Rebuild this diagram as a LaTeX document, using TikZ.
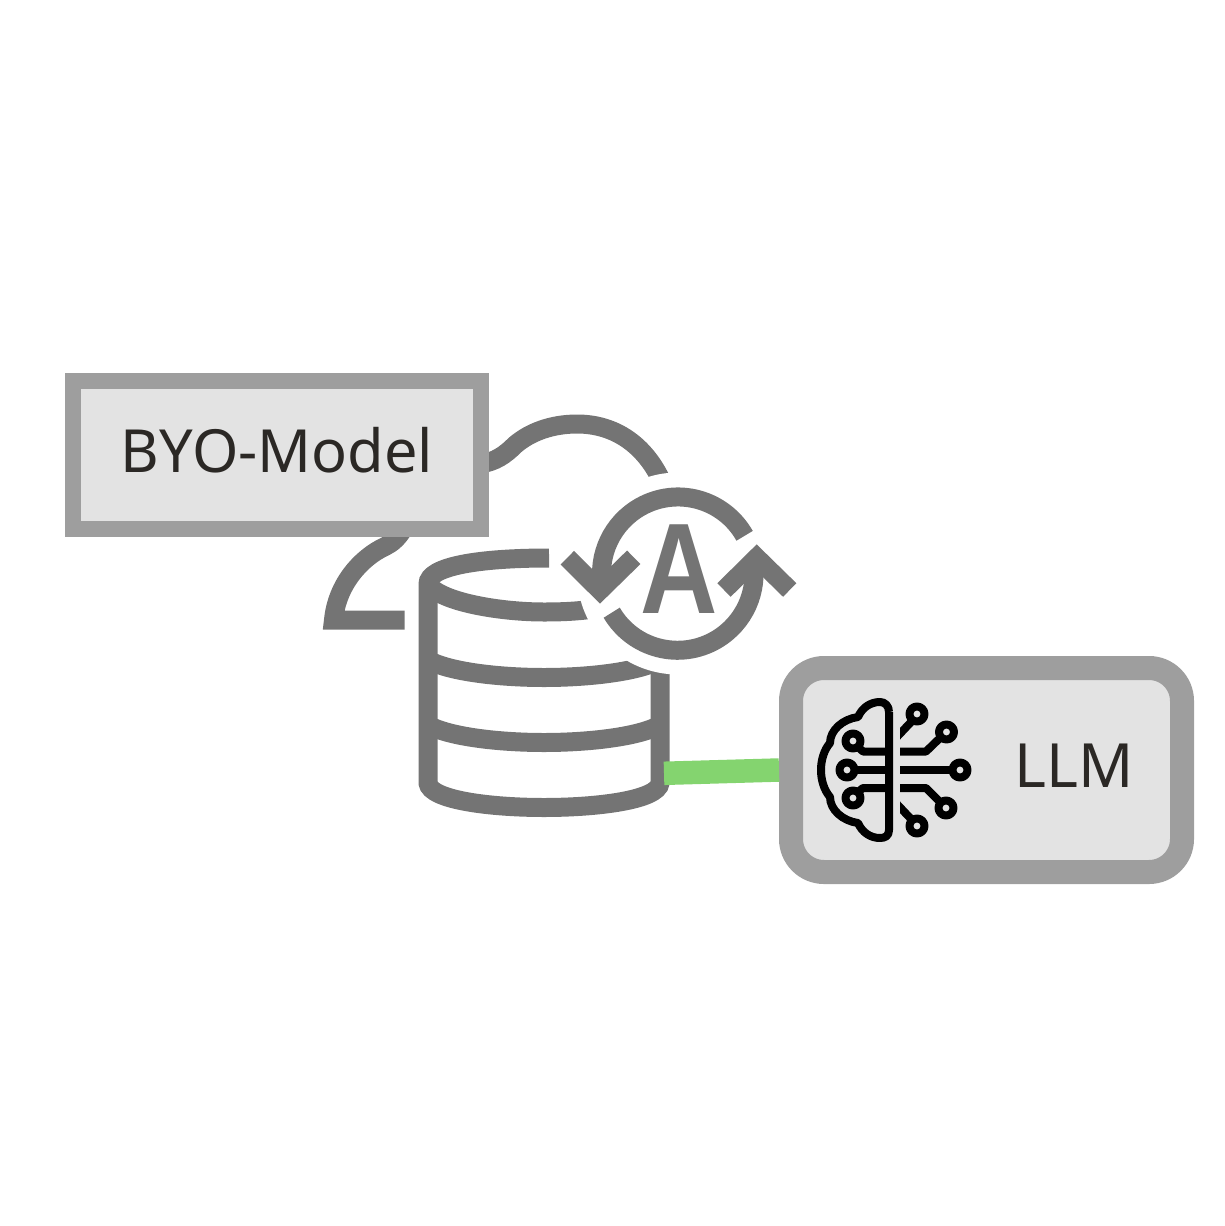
\documentclass[tikz,border=0pt]{standalone}
\usepackage{fontspec}
\setmainfont{Noto Sans}
\newfontfamily\autofont{Liberation Sans}
\definecolor{icongray}{HTML}{747474}
\definecolor{boxgray}{HTML}{9E9E9E}
\definecolor{boxfill}{HTML}{E3E3E3}
\definecolor{labelink}{HTML}{2B2825}
\definecolor{linkgreen}{HTML}{84D46F}
\begin{document}
\begin{tikzpicture}[
    x=1pt, y=-1pt,
    boxnode/.style={draw=boxgray, fill=boxfill, text=labelink, inner sep=0pt, font=\fontsize{59.5}{70}\selectfont},
    labelnode/.style={text=labelink, inner sep=0pt, font=\fontsize{61}{70}\selectfont},
    iconline/.style={draw=icongray, line width=19pt},
    brainline/.style={draw=black, line width=8pt, line join=round},
    linkline/.style={draw=linkgreen, line width=23.5pt}
    ]
    \useasboundingbox (0,0) rectangle (1224,1226);

    \draw [iconline] (480,464) .. controls (495,462) and (505,455) .. (515,445) .. controls (530,432) and (552,424) .. (577,424) .. controls (615,424) and (645,445) .. (662,482);
    \draw [iconline] (404.5,620) -- (333.5,620) .. controls (337,585) and (360,558) .. (386,546) .. controls (392,543) and (398,538) .. (404,528);

    \draw [iconline] (549,558) .. controls (480,558) and (428,566) .. (428,584) -- (428,783) .. controls (430,800) and (490,807.5) .. (544,807.5) .. controls (598,807.5) and (658,800) .. (660,783) -- (660,660);
    \draw [iconline] (428,584) .. controls (440,602) and (500,612) .. (544,612) .. controls (565,612) and (585,611) .. (605,607);
    \draw [iconline] (428,660) .. controls (450,672) and (500,677.5) .. (544,677.5) .. controls (588,677.5) and (638,672) .. (660,660);
    \draw [iconline] (428,725) .. controls (450,737) and (500,742.5) .. (544,742.5) .. controls (588,742.5) and (638,737) .. (660,725);

    \fill [white] (678,573.5) circle [radius=101pt];

    \draw [iconline] (744.6,535.8) arc [start angle=29.5, end angle=190, radius=76.5pt];
    \draw [iconline] (611.7,612.7) arc [start angle=210.6, end angle=371, radius=76.5pt];
    \draw [iconline] (567.3,557.7) -- (600,590.3) -- (633.7,557.3);
    \draw [iconline] (724,590) -- (756.7,557.7) -- (789.7,590);
    \node [text=icongray, inner sep=0pt, font=\fontsize{129}{130}\autofont\bfseries] (autoA) at (679,569.5) {\scalebox{.83}[1]{A}};

    \coordinate (dbport) at (664,773.3);
    \node [boxnode, line width=16pt, minimum width=408pt, minimum height=148pt, text depth=11pt] (byo) at (277,455) {BYO-Model};
    \node [boxnode, line width=24pt, minimum width=391pt, minimum height=204pt, rounded corners=33pt] (llm) at (986.5,770) {};
    \draw [linkline] (dbport) edge (llm.west);
    \node [labelnode, anchor=base west] (llmtext) at (1014.5,787) {LLM};

    \draw [brainline] (889,712) -- (889,830) .. controls (889,836) and (885,838) .. (880,838) .. controls (870,838) and (862,832) .. (858,823) .. controls (843,821) and (830,810) .. (830,797) .. controls (824,790) and (821,780) .. (821,770) .. controls (821,760) and (824,750) .. (830,743) .. controls (830,730) and (843,719) .. (858,717) .. controls (862,708) and (870,702) .. (880,702) .. controls (885,702) and (889,706) .. (889,712);

    \foreach \cx/\cy in {853/741, 847/770, 853/798, 917/714, 946.5/732, 960/770, 946/808, 917/826}
        \draw [brainline] (\cx,\cy) circle [radius=7.5pt];

    \draw [brainline] (858,747) -- (863,751.5) -- (889,751.5);
    \draw [brainline] (854.5,770) -- (889,770);
    \draw [brainline] (858,792) -- (863,788) -- (889,788);
    \draw [brainline] (900,751.5) -- (926,751.5) -- (941,737);
    \draw [brainline] (900,770) -- (952.5,770);
    \draw [brainline] (900,788) -- (926,788) -- (941,803);
    \begin{scope}
        \clip (900,700) rectangle (930,840);
        \draw [brainline] (895,739) -- (912,721);
        \draw [brainline] (895,802) -- (912,820);
    \end{scope}
\end{tikzpicture}
\end{document}
